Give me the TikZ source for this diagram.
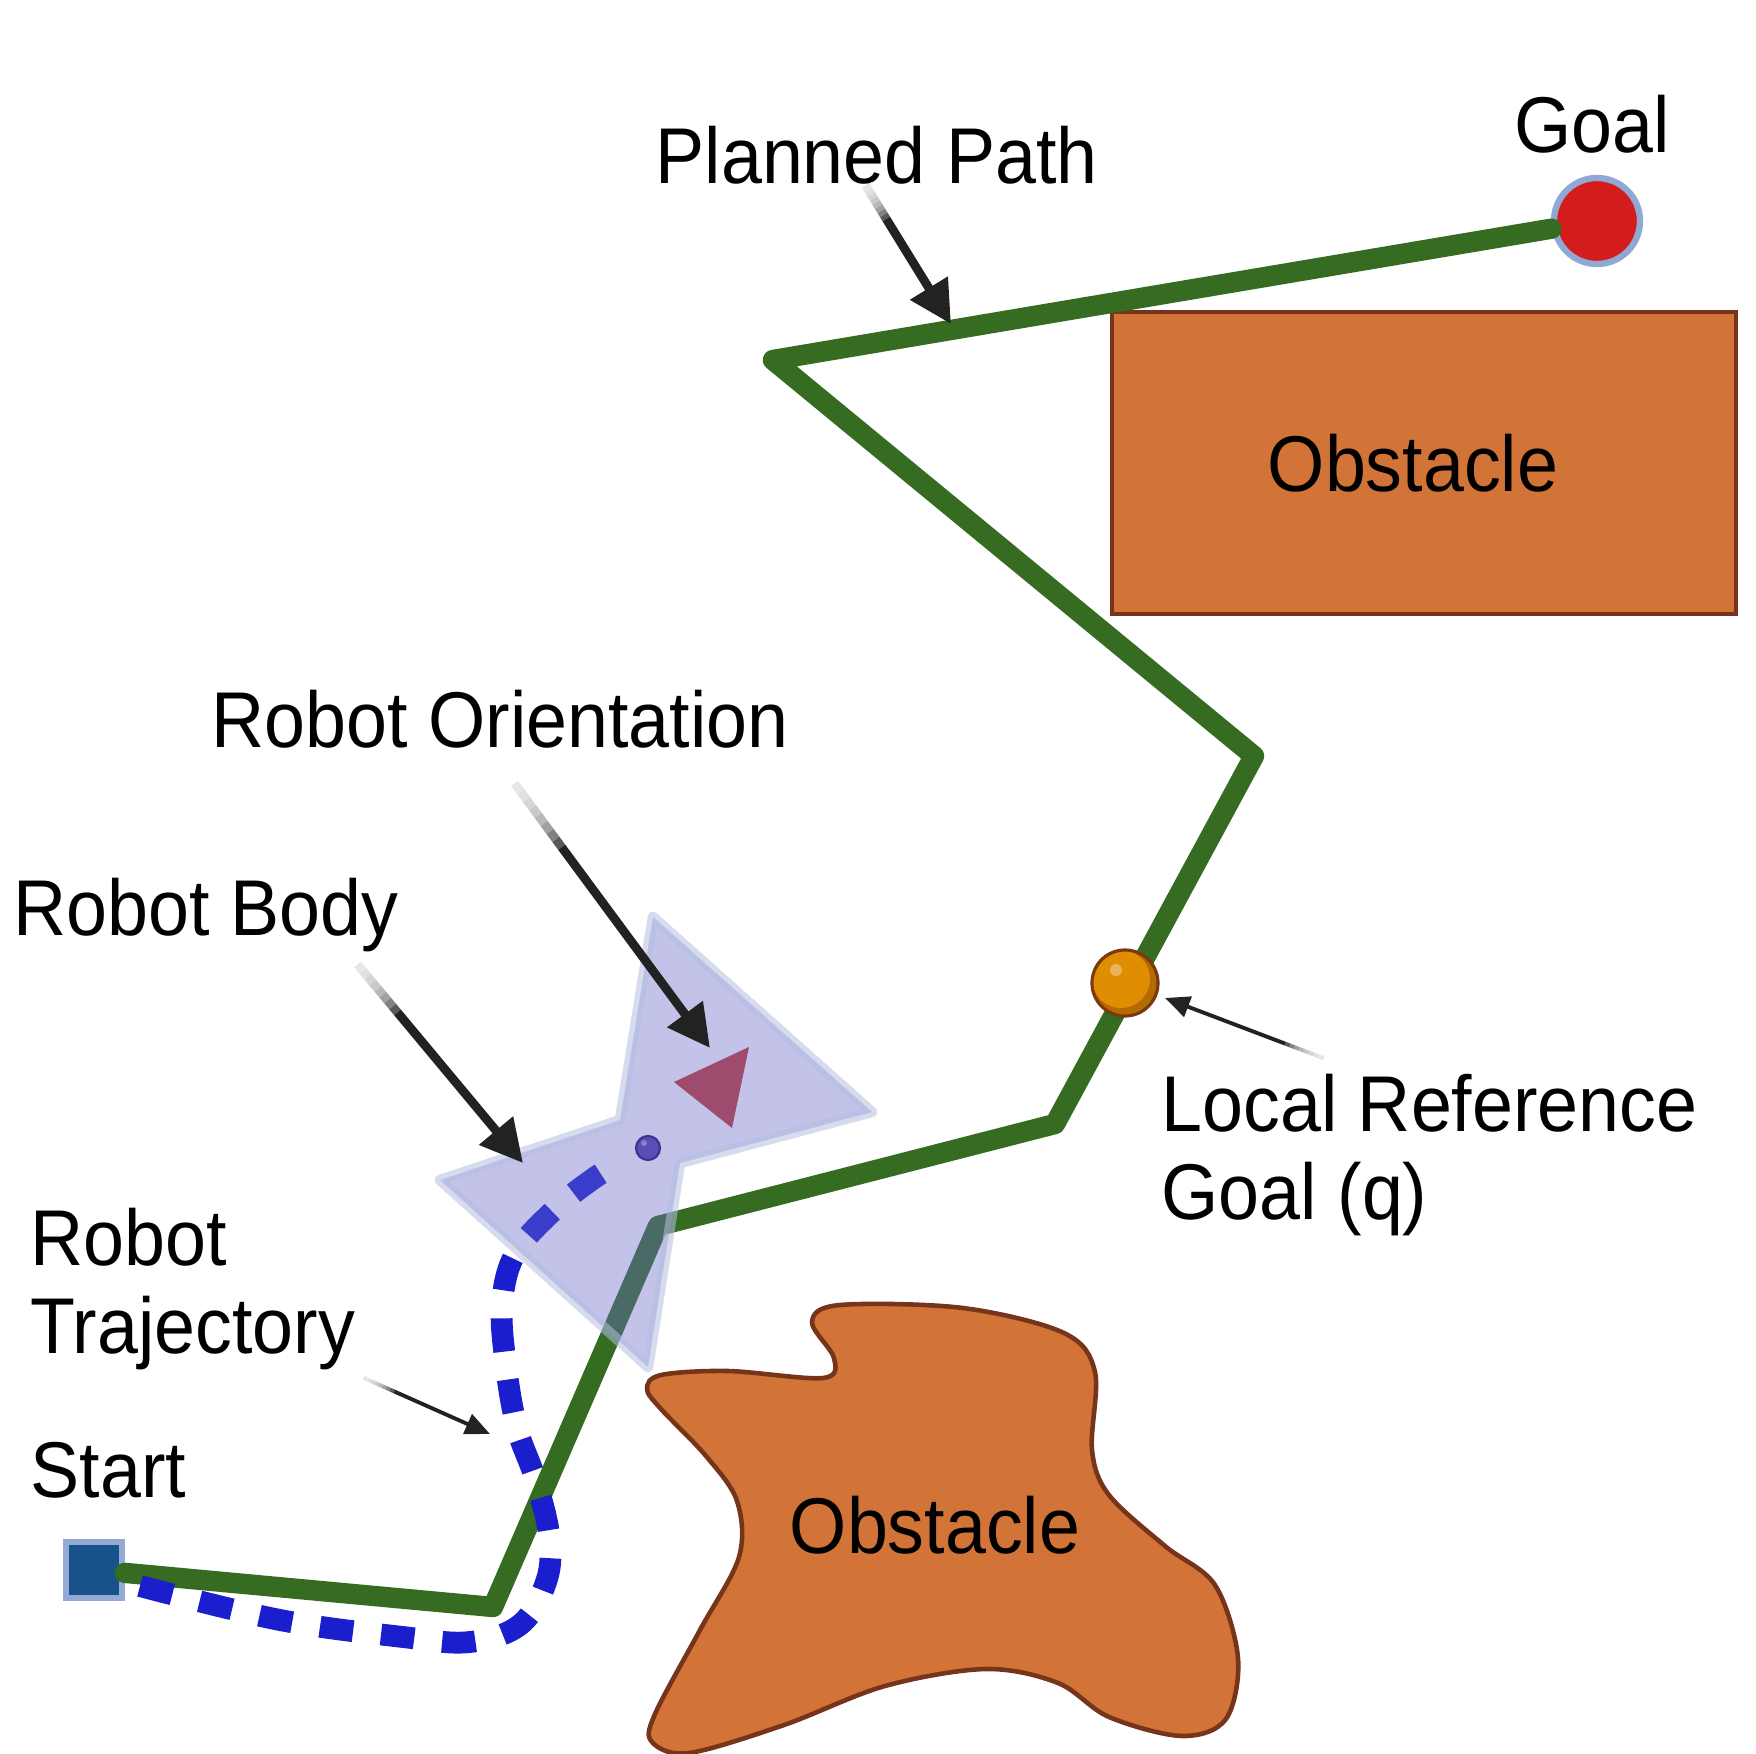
\documentclass[tikz,border=0pt]{standalone}
\usepackage{fontspec}
\setmainfont{Liberation Sans}[FakeStretch=0.93]
\usetikzlibrary{arrows.meta,calc}
\definecolor{pathGreen}{HTML}{366B22}
\definecolor{trajBlue}{HTML}{1B1ECC}
\definecolor{obsFill}{HTML}{D27338}
\definecolor{obsLine}{HTML}{76341A}
\definecolor{goalRed}{HTML}{D41C1C}
\definecolor{goalRing}{HTML}{90A8D4}
\definecolor{startFill}{HTML}{17538A}
\definecolor{startRing}{HTML}{94A9D3}
\definecolor{bodyFill}{HTML}{6969CA}
\definecolor{bodyLine}{HTML}{B4BFE0}
\definecolor{headFill}{HTML}{9E4B6E}
\definecolor{hubFill}{HTML}{5B4DB3}
\definecolor{hubLine}{HTML}{3C3290}
\definecolor{hubGlow}{HTML}{8A80CC}
\definecolor{refFill}{HTML}{DE8E00}
\definecolor{refShade}{HTML}{B46C02}
\definecolor{refLine}{HTML}{7A3A10}
\definecolor{refGlow}{HTML}{EAB25F}
\definecolor{arrowDark}{HTML}{222222}

\begin{document}
\begin{tikzpicture}[
  x=0.01cm, y=-0.01cm,
  font=\fontsize{22.5pt}{25pt}\selectfont,
  lbl/.style={anchor=base west, inner sep=0pt, align=left},
  obsbox/.style={rectangle, draw=obsLine, fill=obsFill, line width=1.3pt},
  blob/.style={draw=obsLine, fill=obsFill, line width=1.3pt},
  planned/.style={draw=pathGreen, line width=5.8pt, line join=round, line cap=round},
  traj/.style={draw=trajBlue, line width=6.2pt, dash pattern=on 9.5pt off 8pt},
  body/.style={fill=bodyFill, fill opacity=0.4, draw=bodyLine, draw opacity=0.55,
    line width=3pt, line join=round},
  goalpt/.style={circle, minimum size=0.86cm, inner sep=0pt, fill=goalRed,
    draw=goalRing, line width=1.8pt},
  startpt/.style={rectangle, minimum size=0.56cm, inner sep=0pt, fill=startFill,
    draw=startRing, line width=1.6pt},
  refball/.style={circle, minimum size=0.66cm, inner sep=0pt, draw=refLine, line width=0.9pt},
  hubdot/.style={circle, minimum size=0.24cm, inner sep=0pt, draw=hubLine, line width=0.6pt},
  bigarrow/.style={-{Triangle[length=12pt,width=12pt]}, draw=arrowDark, line width=2.5pt},
  smallarrow/.style={-{Triangle[length=7pt,width=6pt]}, draw=arrowDark, line width=1.1pt},
  tailfade/.style={draw=white, opacity=0.25, line width=4pt}
]
\useasboundingbox (0,0) rectangle (1756,1754);

%  Obstacles 
\node[obsbox, minimum width=6.24cm, minimum height=3.02cm] (obs1) at (1424,463) {};
\node (obs1txt) at (1413,463) {Obstacle};

\draw[blob] plot[smooth cycle, tension=0.55] coordinates {
  (661,1375) (728,1371) (823,1378) (834,1358) (812,1322) (840,1305)
  (963,1308) (1064,1333) (1095,1372) (1092,1450) (1109,1495) (1165,1546)
  (1215,1585) (1238,1658) (1226,1719) (1182,1736) (1109,1717) (1058,1683)
  (986,1669) (885,1686) (784,1725) (689,1753) (652,1742) (655,1714)
  (700,1630) (739,1557) (737,1501) (706,1456) (661,1409) (647,1389)};
\node (obs2) at (935,1525) {Obstacle};

%  Start and goal 
\node[startpt] (start) at (94,1570) {};
\node[goalpt] (goal) at (1597,221) {};

%  Planned path 
\coordinate (c1) at (493,1607);
\coordinate (c2) at (658,1226);
\coordinate (c3) at (1055,1124);
\coordinate (c4) at (1254,756);
\coordinate (c5) at (773,360);
\draw[planned] (start) -- (c1) -- (c2) -- (c3) -- (c4) -- (c5) -- (goal);

%  Robot trajectory 
\draw[traj] plot[smooth, tension=0.6] coordinates {
  (140,1586) (280,1620) (403,1637) (470,1642) (521,1624) (547,1579)
  (549,1534) (535,1478) (517,1428) (506,1366) (502,1305) (515,1254)
  (554,1210) (590,1181) (615,1165)};

%  Robot 
\draw[body] (653,917) -- (872,1112) -- (680,1163) -- (648,1367)
  -- (440,1180) -- (620,1120) -- cycle;
\fill[headFill] (749,1047) -- (674,1082) -- (732,1128) -- cycle;
\fill[hubFill] (648,1148) circle (12);
\fill[hubGlow] (644,1143) circle (3);
\node[hubdot] (hub) at (648,1148) {};

%  Local reference goal 
\fill[refShade] (1125,983) circle (33);
\fill[refFill] (1121,979) circle (29);
\fill[refGlow] (1116,970) circle (6);
\node[refball] (ref) at (1125,983) {};

%  Labels 
\node[lbl] (goaltxt) at (1514,152) {Goal};
\node[lbl] (plannedtxt) at (655,183) {Planned Path};
\node[lbl] (orienttxt) at (211,747) {Robot Orientation};
\node[lbl] (bodytxt) at (13,935) {Robot Body};
\node[lbl] (reftxt) at (1161,1219) {Local Reference\\Goal (q)};
\node[lbl] (trajtxt) at (30,1353) {Robot\\Trajectory};
\node[lbl] (starttxt) at (30,1497) {Start};

%  Pointer arrows 
\coordinate (pp-from) at (866,186);
\coordinate (pp-to) at (951,324);
\coordinate (or-from) at (515,784);
\coordinate (or-to) at (710,1048);
\coordinate (bd-from) at (358,965);
\coordinate (bd-to) at (523,1163);
\coordinate (rf-from) at (1323,1058);
\coordinate (rf-to) at (1165,998);
\coordinate (tj-from) at (364,1378);
\coordinate (tj-to) at (490,1434);
\draw[bigarrow] (pp-from) -- (pp-to);
\draw[bigarrow] (or-from) -- (or-to);
\draw[bigarrow] (bd-from) -- (bd-to);
\draw[smallarrow] (rf-from) -- (rf-to);
\draw[smallarrow] (tj-from) -- (tj-to);

% fade the arrow tails
\foreach \a in {pp,or,bd,rf,tj}
  \foreach \k in {1,...,8}
    \draw[tailfade] (\a-from) -- ($(\a-from)!\k*0.03!(\a-to)$);

\end{tikzpicture}
\end{document}
